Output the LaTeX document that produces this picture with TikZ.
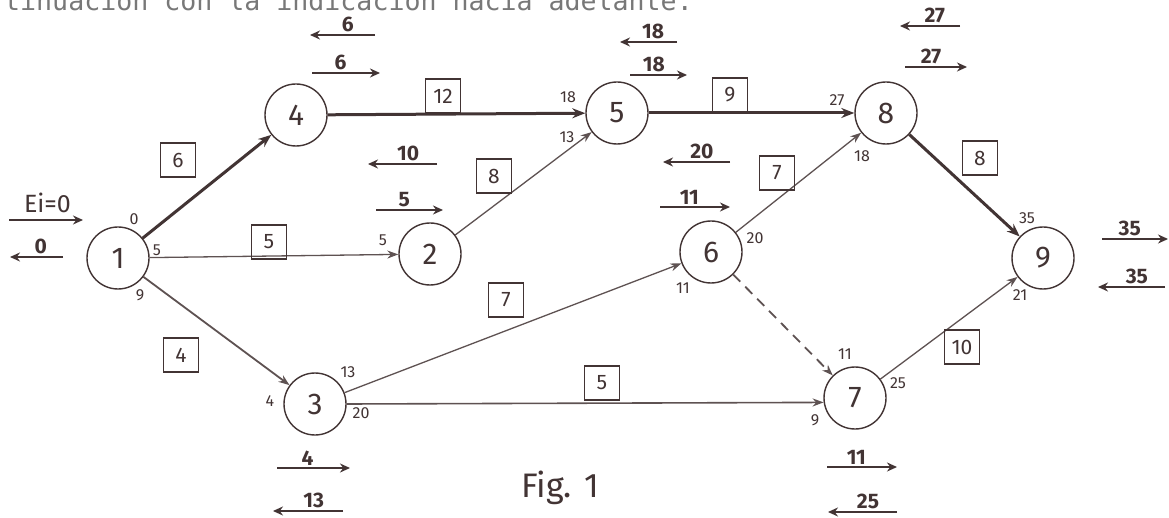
\documentclass[tikz,border=0pt]{standalone}
\usepackage{fontspec}
\setmainfont{Fira Sans}
\newfontfamily\typefont{DejaVu Sans Mono}
\usepackage{tikz}
\usetikzlibrary{arrows.meta}
\definecolor{ink}{RGB}{66,52,52}
\definecolor{typegray}{RGB}{120,120,120}

\tikzset{
  ev/.style={circle,draw=ink,line width=1.4pt,minimum size=62pt,inner sep=0pt,
    text=ink,font=\fontsize{30}{30}\selectfont},
  dur/.style={draw=ink,line width=1.2pt,minimum width=35pt,minimum height=34pt,inner sep=0pt,
    text=ink,font=\fontsize{21}{21}\selectfont},
  tag/.style={text=ink,inner sep=0pt,font=\fontsize{16}{16}\selectfont},
  act/.style={draw=ink!85,line width=1.3pt,-{Stealth[length=11pt,width=8pt]}},
  crit/.style={act,draw=ink,line width=3pt,-{Stealth[length=13pt,width=10pt]}},
  tarr/.style={draw=ink,line width=1.6pt,-{Stealth[length=10pt,width=9pt]}},
  tnum/.style={text=ink,inner sep=2pt,font=\fontsize{21}{21}\selectfont\bfseries}
}

\begin{document}
\begin{tikzpicture}[x=1pt,y=-1pt]
  \fill[white] (0,0) rectangle (1169,518);
  \useasboundingbox (0,0) rectangle (1169,518);
  \node[anchor=base west,inner sep=0pt,text=typegray,font=\typefont\fontsize{26.6}{26.6}\selectfont]
    (head) at (4,11) {tinuacion con la indicacion hacia adelante.};

  \node[ev] (n1) at (118,258) {1};
  \node[ev] (n4) at (296,115) {4};
  \node[ev] (n2) at (430,254) {2};
  \node[ev] (n3) at (315,404) {3};
  \node[ev] (n5) at (617,113) {5};
  \node[ev] (n6) at (711,252) {6};
  \node[ev] (n8) at (886,113) {8};
  \node[ev] (n7) at (855,398) {7};
  \node[ev] (n9) at (1043,258) {9};

  \draw[crit] (n1) -- (n4);
  \draw[act] (n1) -- (n2);
  \draw[act,line width=1.8pt] (n1) -- (n3);
  \draw[crit] (n4) -- (n5);
  \draw[act] (n2) -- (n5);
  \draw[act] (n3) -- (n6);
  \draw[act,line width=1.6pt] (n3.east) -- (n7.188);
  \draw[crit] (n5) -- (n8);
  \draw[act] (n6) -- (n8);
  \draw[act,line width=1.8pt,dash pattern=on 10pt off 7pt] (n6) -- (n7);
  \draw[crit] (n8) -- (n9);
  \draw[act] (n7) -- (n9);

  \foreach \nm/\x/\y/\d in {b14/178/160/6, b12/269/242/5, b13/181/355/4, b45/443/96/12,
      b25/494/176/8, b36/506/300/7, b37/602/383/5, b58/730/95/9, b68/777/173/7,
      b89/980/158/8, b79/962/347/10}
    \node[dur] (\nm) at (\x,\y) {\d};

  \foreach \nm/\x/\y/\t in {s1a/134/219/0, s1b/157/250/5, s1c/140/295/9, s2a/383/240/5,
      s3a/348/372/13, s3b/270/401/4, s3c/361/413/20, s5a/568/97/18, s5b/567/137/13,
      s6a/755/238/20, s6b/683/288/11, s8a/837/100/27, s8b/862/156/18, s7a/845/354/11,
      s7b/898/383/25, s7c/815/420/9, s9a/1027/218/35, s9b/1020/295/21}
    \node[tag] (\nm) at (\x,\y) {\t};

  \coordinate (ei0) at (9,220);
  \coordinate (ei1) at (83,220);
  \draw[tarr] (ei0) -- (ei1) node[text=ink,pos=0.52,above=3pt,font=\fontsize{25}{25}\selectfont] {Ei=0};
  \foreach \nm/\xa/\xb/\y/\t in {ea/63/10/257/0, pa/375/310/35/6,
      pb/312/380/73/6, qa/437/368/164/10, qb/376/443/210/5, ra/677/620/42/18,
      rb/630/687/75/18, sa/730/663/162/20, sb/660/730/207/11, ua/960/900/26/27,
      ub/905/967/67/27, va/1102/1168/239/35, vb/1165/1098/287/35, wa/277/350/468/4,
      wb/343/273/511/13, za/827/897/467/11, zb/897/828/512/25} {
    \coordinate (\nm0) at (\xa,\y);
    \coordinate (\nm1) at (\xb,\y);
    \draw[tarr] (\nm0) -- (\nm1) node[tnum,pos=0.42,above] {\t};
  }

  \node[text=ink,font=\fontsize{34}{34}\selectfont] (fig) at (560,488) {Fig. 1};
\end{tikzpicture}
\end{document}
